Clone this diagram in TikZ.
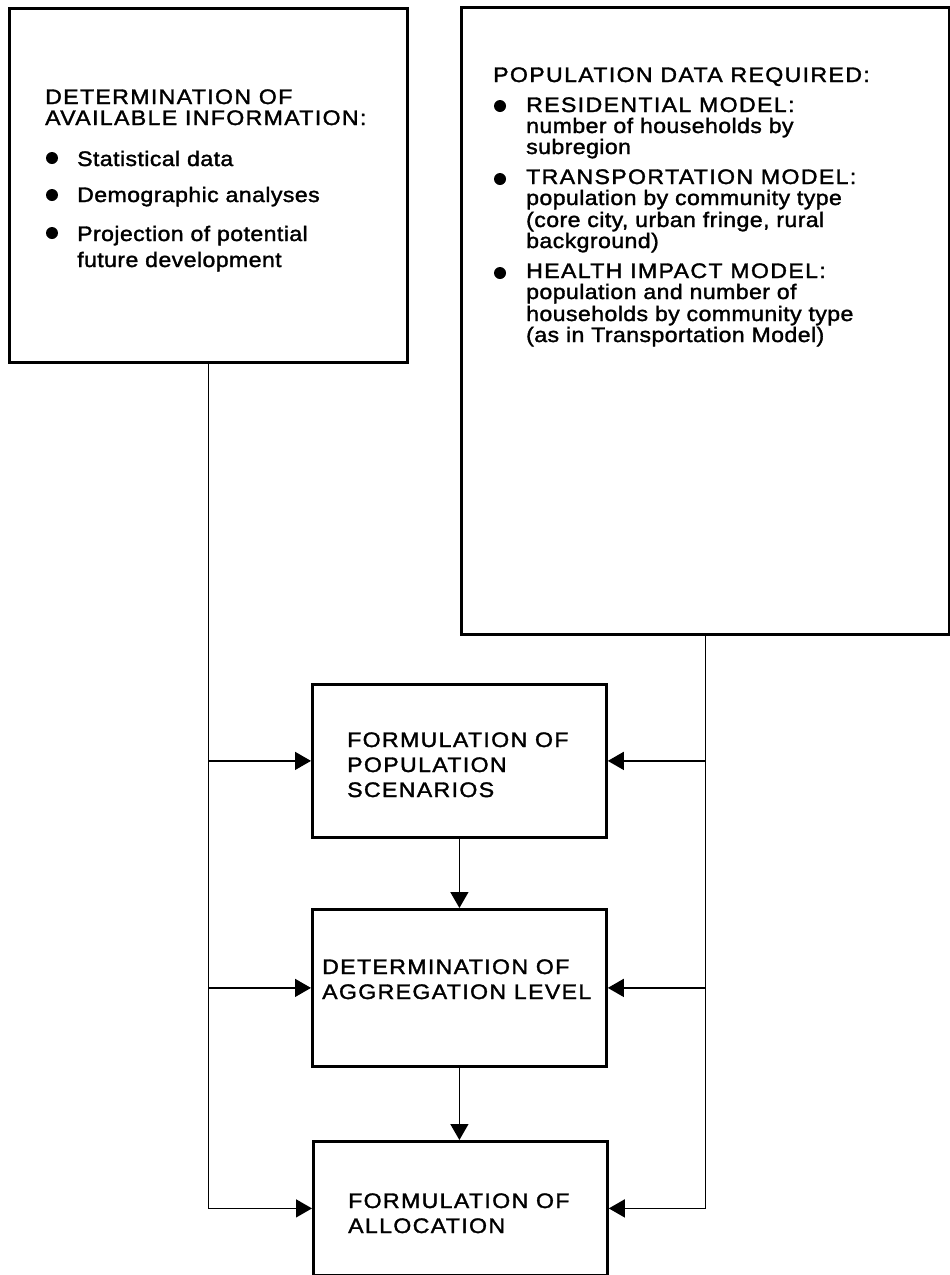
\documentclass[tikz,border=0pt]{standalone}
\usepackage{fontspec}
\setmainfont{Liberation Sans}[FakeStretch=1.1, FakeBold=1.6, LetterSpace=2]
\newfontfamily\capsfont{Liberation Sans}[FakeStretch=1.1, FakeBold=1.6, LetterSpace=6.5]
\usetikzlibrary{arrows.meta}

\tikzset{
  frame/.style={draw, line width=2.8pt, rectangle, inner sep=0pt, anchor=north west},
  conn/.style={line width=1.4pt},
  tip/.style={-{Triangle[length=16pt, width=18pt]}},
  txt/.style={anchor=base west, inner sep=0pt, font=\fontsize{21}{22}\selectfont},
  capline/.style={txt, font=\fontsize{21}{22}\selectfont\capsfont},
  dot/.style={circle, fill, inner sep=0pt, minimum size=12pt},
  flowtxt/.style={anchor=base west, inner sep=0pt, align=left,
                  font=\fontsize{21}{25}\selectfont\capsfont},
}

\begin{document}
\begin{tikzpicture}[x=1pt, y=-1pt]
\useasboundingbox (0,0) rectangle (950,1275);

% input boxes
\node[frame, minimum width=398pt, minimum height=354pt] (lbox) at (8,7) {};
\node[frame, minimum width=488pt, minimum height=627pt] (rbox) at (460,6) {};

% available information
\node[capline] (lh1) at (45,104) {DETERMINATION OF};
\node[capline] (lh2) at (45,125) {AVAILABLE INFORMATION:};
\node[dot] (ld1) at (52,158) {};
\node[txt] (li1) at (77,166) {Statistical data};
\node[dot] (ld2) at (52,195) {};
\node[txt] (li2) at (77,202) {Demographic analyses};
\node[dot] (ld3) at (52,233) {};
\node[txt] (li3) at (77,241) {Projection of potential};
\node[txt] (li3b) at (77,267) {future development};

% population data required
\node[capline] (rh) at (493,82) {POPULATION DATA REQUIRED:};
\node[dot] (rd1) at (500,106) {};
\node[capline] (ri1) at (526,112) {RESIDENTIAL MODEL:};
\node[txt] (ri1b) at (526,133) {number of households by};
\node[txt] (ri1c) at (526,154) {subregion};
\node[dot] (rd2) at (500,179) {};
\node[capline] (ri2) at (526,184) {TRANSPORTATION MODEL:};
\node[txt] (ri2b) at (526,205) {population by community type};
\node[txt] (ri2c) at (526,227) {(core city, urban fringe, rural};
\node[txt] (ri2d) at (526,248) {background)};
\node[dot] (rd3) at (500,273) {};
\node[capline] (ri3) at (526,278) {HEALTH IMPACT MODEL:};
\node[txt] (ri3b) at (526,299) {population and number of};
\node[txt] (ri3c) at (526,321) {households by community type};
\node[txt] (ri3d) at (526,342) {(as in Transportation Model)};

% process boxes
\node[frame, minimum width=294pt, minimum height=153pt] (b1) at (311,683) {};
\node[frame, minimum width=294pt, minimum height=157pt] (b2) at (311,908) {};
\node[frame, minimum width=294pt, minimum height=134pt] (b3) at (312,1140) {};

\node[flowtxt] (b1t) at (347,797) {FORMULATION OF\\POPULATION\\SCENARIOS};
\node[flowtxt] (b2t) at (322,999) {DETERMINATION OF\\AGGREGATION LEVEL};
\node[flowtxt] (b3t) at (348,1233) {FORMULATION OF\\ALLOCATION};

% feeds from the two input boxes
\draw[conn, tip] (lbox.south) |- (b3.west);
\draw[conn, tip] (lbox.south |- b1.west) -- (b1.west);
\draw[conn, tip] (lbox.south |- b2.west) -- (b2.west);
\draw[conn, tip] (rbox.south) |- (b3.east);
\draw[conn, tip] (rbox.south |- b1.east) -- (b1.east);
\draw[conn, tip] (rbox.south |- b2.east) -- (b2.east);

% sequence
\draw[conn, tip] (b1.south) -- (b1.south |- b2.north);
\draw[conn, tip] (b2.south) -- (b2.south |- b3.north);
\end{tikzpicture}
\end{document}
